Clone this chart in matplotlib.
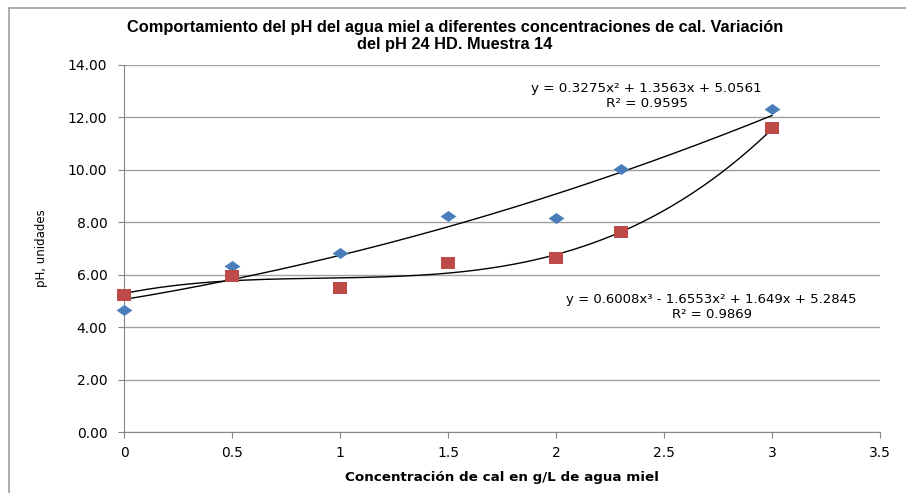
import numpy as np
import matplotlib
matplotlib.use("Agg")
import matplotlib.pyplot as plt
from matplotlib.lines import Line2D

conc = [0, 0.5, 1, 1.5, 2, 2.3, 3]
ph_blue = [4.66, 6.35, 6.84, 8.24, 8.17, 10.02, 12.33]
ph_red = [5.23, 5.96, 5.50, 6.45, 6.65, 7.64, 11.58]

# trendline coefficients as printed on the chart (highest power first)
fit_blue = [0.3275, 1.3563, 5.0561]
fit_red = [0.6008, -1.6553, 1.649, 5.2845]

yticks = [0, 2, 4, 6, 8, 10, 12, 14]
xticks = [0, 0.5, 1, 1.5, 2, 2.5, 3, 3.5]

plt.rcParams['font.family'] = ['DejaVu Sans']

fig = plt.figure(figsize=(9.06, 4.93), dpi=100)
ax = fig.add_axes([0.1369, 0.1237, 0.9713 - 0.1369, 0.8682 - 0.1237])

# outer chart frame (only left and top edges show)
fig.add_artist(Line2D([0.0099, 0.0099], [0, 0.984], color='#a0a0a0', lw=1.2, transform=fig.transFigure))
fig.add_artist(Line2D([0.0099, 1.0], [0.984, 0.984], color='#a0a0a0', lw=1.2, transform=fig.transFigure))

xs = np.linspace(0, 3, 200)
ax.plot(xs, np.polyval(fit_blue, xs), color='black', lw=1.0, zorder=2)
ax.plot(xs, np.polyval(fit_red, xs), color='black', lw=1.0, zorder=2)

diamond = [(-1, 0), (0, 0.7), (1, 0), (0, -0.7), (-1, 0)]
rect = [(-1, -0.85), (1, -0.85), (1, 0.85), (-1, 0.85), (-1, -0.85)]
ax.scatter(conc, ph_blue, marker=diamond, s=130, color='#4a7ebb', zorder=3, linewidths=0, clip_on=False)
ax.scatter(conc, ph_red, marker=rect, s=95, color='#be4b48', zorder=3, linewidths=0, clip_on=False)

ax.set_xlim(0, 3.5)
ax.set_ylim(0, 14)
ax.set_xticks(xticks)
ax.set_xticklabels(['0', '0.5', '1', '1.5', '2', '2.5', '3', '3.5'])
ax.set_yticks(yticks)
ax.set_yticklabels(['%.2f' % v for v in yticks])
ax.grid(axis='y', color='#a0a0a0', lw=1.0)
ax.set_axisbelow(True)
for s in ['top', 'right']:
    ax.spines[s].set_visible(False)
for s in ['left', 'bottom']:
    ax.spines[s].set_color('#868686')
ax.tick_params(axis='both', colors='#868686', labelcolor='black', labelsize=10, length=4)
ax.tick_params(axis='x', pad=6)
ax.tick_params(axis='y', pad=8)

ax.set_xlabel('Concentración de cal en g/L de agua miel', fontsize=9.7, fontweight='bold', labelpad=8)
ax.set_ylabel('pH, unidades', fontsize=8.5, labelpad=14, family='Liberation Sans Narrow')

fig.text(0.502, 0.959, 'Comportamiento del pH del agua miel a diferentes concentraciones de cal. Variación\ndel pH 24 HD. Muestra 14',
         ha='center', va='top', fontsize=11.8, fontweight='bold', linespacing=1.15, family='Liberation Sans')

ax.text(2.42, 12.8, 'y = 0.3275x² + 1.3563x + 5.0561\nR² = 0.9595', ha='center', va='center', fontsize=9.7, linespacing=1.2)
ax.text(2.72, 4.77, 'y = 0.6008x³ - 1.6553x² + 1.649x + 5.2845\nR² = 0.9869', ha='center', va='center', fontsize=9.5, linespacing=1.2)

fig.savefig('out.png', dpi=100)
